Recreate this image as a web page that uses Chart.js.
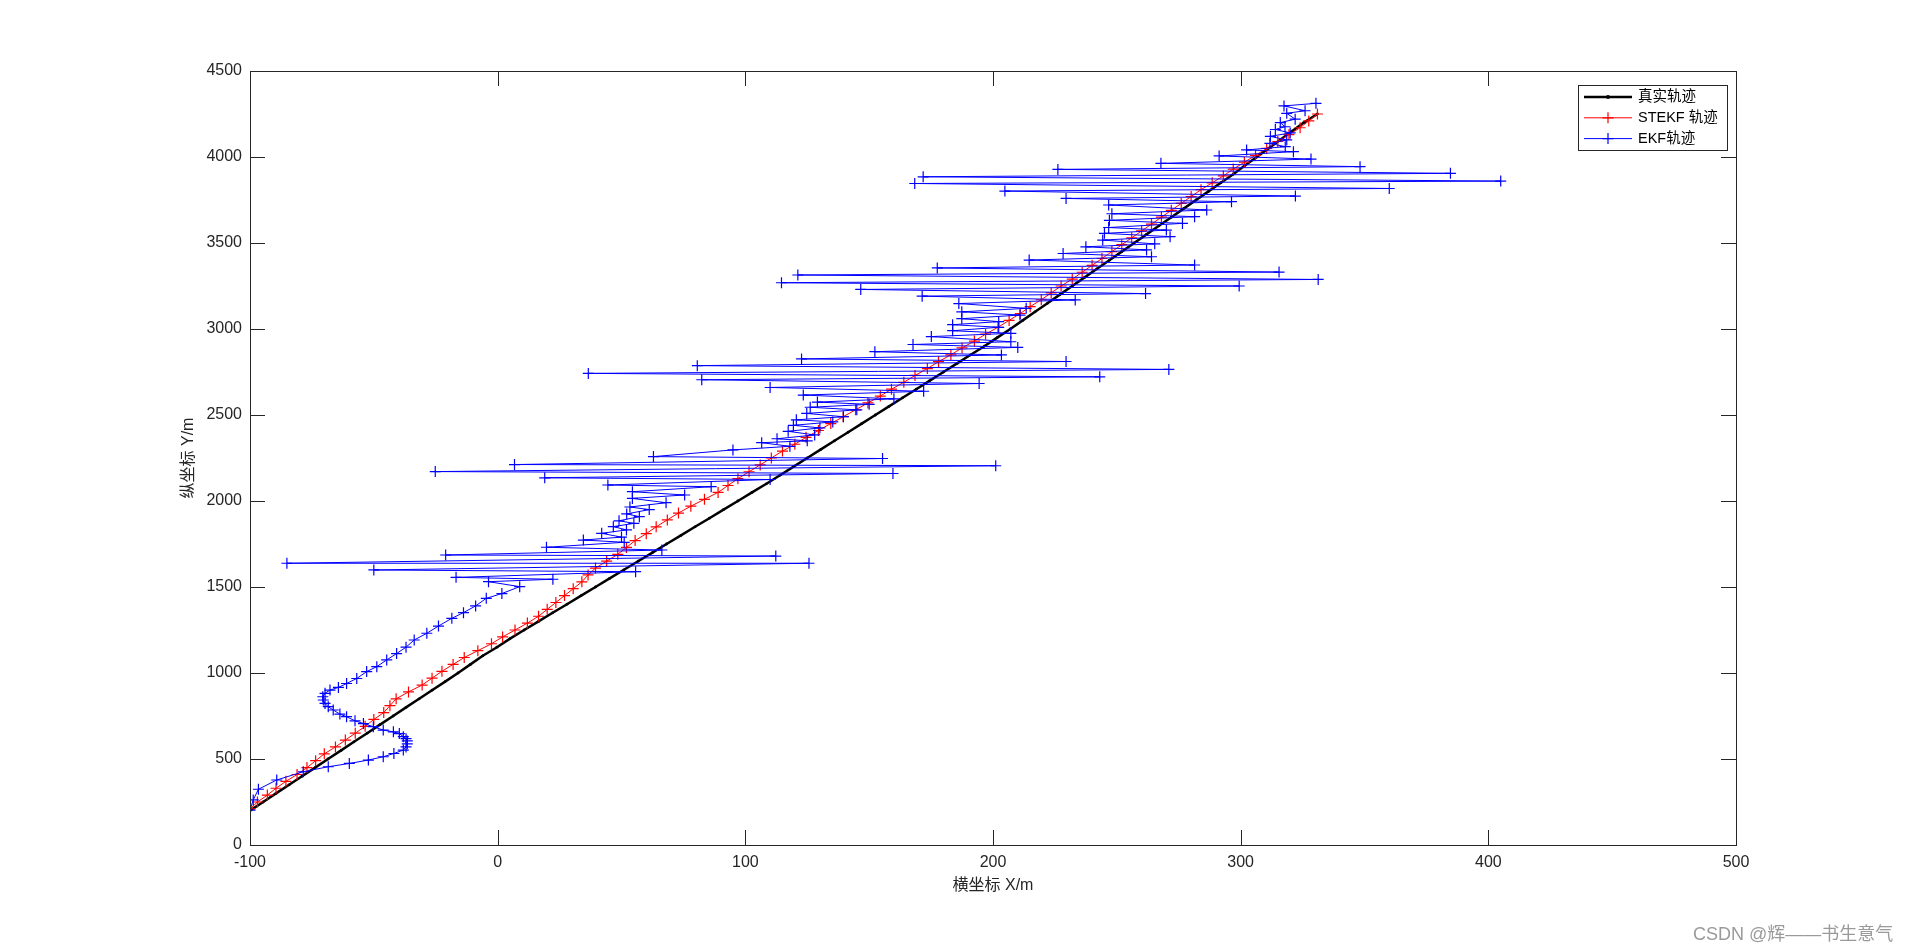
<!DOCTYPE html>
<html>
<head>
<meta charset="utf-8">
<title>轨迹对比</title>
<script src="https://cdn.jsdelivr.net/npm/chart.js@4.4.1/dist/chart.umd.min.js"></script>
<style>
    html, body { margin: 0; padding: 0; background: #ffffff; }
    #wrap { position: relative; width: 1920px; height: 949px; }
    #mark {
        position: absolute; left: 1693px; top: 919px;
        font: 18px "Liberation Sans", "Noto Sans CJK SC", sans-serif;
        color: #9a9a9a; white-space: nowrap;
    }
</style>
</head>
<body>
<div id="wrap">
    <canvas id="track"></canvas>
    <div id="mark">CSDN @辉——书生意气</div>
</div>
<script>
// Nama seri (urutan legenda)
const seriesNames = ['真实轨迹', 'STEKF 轨迹', 'EKF轨迹'];

// Tick sumbu
const xTickValues = [-100, 0, 100, 200, 300, 400, 500];
const yTickValues = [0, 500, 1000, 1500, 2000, 2500, 3000, 3500, 4000, 4500];

// Lintasan sebenarnya
const trueX = [-100, -94.7, -89.5, -84.2, -79, -73.7, -68.5, -63.2, -58, -52.7,
    -47.5, -42.2, -37, -31.7, -26.5, -21.2, -16, -11, -6, -0.3,
    5, 10.7, 16.5, 22.2, 28, 33.7, 39.5, 45.2, 51, 56.7,
    62.5, 68.2, 74, 79.7, 85.5, 91.2, 97, 102.7, 108.5, 114,
    119.5, 125, 130.5, 136, 141.5, 147, 152.5, 158, 163.5, 169,
    174.5, 180, 185.5, 191, 196.5, 201.7, 207, 212, 217, 222,
    227, 232, 237, 242, 247, 252, 257, 262, 267, 272,
    277, 282, 287, 292, 297, 301.7, 306.5, 311.2, 316, 320.7,
    325.5, 331];
const trueY = [200, 250, 300, 350, 400, 450, 500, 550, 600, 650,
    700, 750, 800, 850, 900, 950, 1000, 1050, 1100, 1150,
    1200, 1250, 1300, 1350, 1400, 1450, 1500, 1550, 1600, 1650,
    1700, 1750, 1800, 1850, 1900, 1950, 2000, 2050, 2100, 2150,
    2200, 2250, 2300, 2350, 2400, 2450, 2500, 2550, 2600, 2650,
    2700, 2750, 2800, 2850, 2900, 2950, 3000, 3050, 3100, 3150,
    3200, 3250, 3300, 3350, 3400, 3450, 3500, 3550, 3600, 3650,
    3700, 3750, 3800, 3850, 3900, 3950, 4000, 4050, 4100, 4150,
    4200, 4250];

// Lintasan STEKF
const stekfX = [-100, -97, -93, -89.5, -85.5, -81, -77, -73.5, -70, -65.5,
    -61.5, -57.5, -53.5, -50, -46, -43.5, -41, -36, -30.5, -26.5,
    -22.5, -18, -13.5, -8, -2.5, 2, 7, 12, 16.5, 20,
    23.5, 27, 30.5, 34, 36.5, 39.5, 44, 48.5, 52, 55.5,
    60, 64, 68.5, 73, 78, 83.5, 89, 93, 97, 101.5,
    106, 110.5, 115, 120, 124.5, 129.5, 134.5, 139.5, 144.5, 149.5,
    154.5, 159, 164, 168.5, 173.5, 178, 183, 187.5, 192.5, 197,
    202, 206.5, 211, 215, 219.5, 223.5, 227.5, 232, 236, 240,
    244, 248, 252, 256, 260, 264, 268, 272, 276, 280,
    284, 288.5, 293, 297, 301.5, 306, 310.5, 315, 319.5, 324,
    327.5, 331];
const stekfY = [210, 250, 290, 330, 370, 410, 450, 490, 530, 570,
    610, 650, 690, 730, 770, 810, 850, 890, 930, 970,
    1010, 1050, 1090, 1130, 1170, 1210, 1250, 1290, 1330, 1370,
    1410, 1450, 1490, 1530, 1570, 1610, 1650, 1690, 1730, 1770,
    1810, 1850, 1890, 1930, 1970, 2010, 2050, 2090, 2130, 2170,
    2210, 2250, 2290, 2330, 2370, 2410, 2450, 2490, 2530, 2570,
    2610, 2650, 2690, 2730, 2770, 2810, 2850, 2890, 2930, 2970,
    3010, 3050, 3090, 3130, 3170, 3210, 3250, 3290, 3330, 3370,
    3410, 3450, 3490, 3530, 3570, 3610, 3650, 3690, 3730, 3770,
    3810, 3850, 3890, 3930, 3970, 4010, 4050, 4090, 4130, 4170,
    4210, 4250];

// Lintasan EKF
const ekfX = [-100, -98.7, -96.6, -89.2, -78.5, -68.4, -59.9, -52.2, -46.2, -41.9,
    -38.1, -37, -36.5, -36.5, -37, -38.1, -39.7, -42.1, -46.2, -50.2,
    -54.2, -57.6, -61, -63.7, -66.4, -68.4, -69.7, -70.4, -70.6, -69.7,
    -67.7, -64.3, -61, -56.9, -52.9, -48.8, -44.8, -40.8, -37, -33.7,
    -28.6, -23.9, -18.5, -13.8, -8.9, -4.6,
    1.7, 8.9, -3.7, 22.3, -16.8, 55.7, -50, 125.7, -85.1, 112.3, -21, 66.3, 19.7, 51.1,
    34.6, 50, 42, 52, 46.7, 55, 49, 57.2, 52.1, 61.2, 53.4, 68, 54.4, 75.5, 54.4, 86.2, 44.5,
    110, 19, 159.6, -25.2, 201.1, 6.8, 155.4, 62.9,
    95, 118, 106.6, 125, 112.8, 128, 117.3, 130.1, 119.4, 135.3, 120.6, 139.6, 124.8, 145, 126.2, 150, 129.1, 160,
    123.4, 172, 110, 194.4, 82.4, 243.1, 36.6, 271, 80.6, 229.5, 122.7, 203.4,
    152.3, 210, 167.7, 207.2, 175.1, 207.2, 183.7, 202.3, 183.7, 202.3, 187.4, 210.9, 187.4,
    213.4, 186.2, 233.2, 171.4, 261.6, 146.6, 299.4, 114.6, 331.3, 121.2, 315.5, 177.5, 281.4,
    214.6, 264, 228.3, 262, 237.5, 265.3, 244.3, 271.5, 245, 270, 246.7, 276.5, 247, 281.4, 248, 286.3, 246.7, 296.3,
    229.5, 322.1, 204.8, 360, 168.4, 405, 171.8, 384.7, 226.2, 348.2, 267.8, 328.4, 291.3,
    321.3, 302.4, 318, 311.8, 318.6, 312, 320, 314, 317.9, 316, 322, 318.6, 326, 317.5, 330.4];
const ekfY = [203, 262, 324, 378, 426, 455, 474, 494, 513, 532,
    552, 570, 588, 605, 618, 630, 648, 658, 668, 688,
    706, 722, 746, 761, 785, 804, 823, 843, 862, 882,
    901, 916, 939, 968, 1008, 1037, 1076, 1113, 1150, 1192,
    1231, 1273, 1318, 1351, 1390, 1434,
    1462, 1502, 1531, 1545, 1556, 1589, 1599, 1638, 1638, 1680, 1686, 1715, 1731, 1760,
    1773, 1790, 1812, 1832, 1851, 1870, 1885, 1909, 1925, 1950, 1965, 1990, 2015, 2035, 2054, 2083, 2093,
    2125, 2135, 2160, 2171, 2205, 2212, 2247, 2258,
    2297, 2318, 2339, 2350, 2362, 2384, 2405, 2425, 2440, 2460, 2472, 2490, 2509, 2530, 2545, 2562, 2575, 2594,
    2616, 2638, 2660, 2683, 2705, 2722, 2742, 2765, 2787, 2811, 2826, 2849,
    2868, 2893, 2910, 2926, 2956, 2975, 2990, 3010, 3025, 3043, 3060, 3081, 3100,
    3120, 3148, 3169, 3191, 3206, 3230, 3250, 3269, 3288, 3314, 3331, 3355, 3372,
    3401, 3420, 3439, 3460, 3478, 3495, 3517, 3537, 3556, 3575, 3590, 3614, 3632, 3653, 3670, 3692, 3721, 3740,
    3759, 3773, 3802, 3817, 3846, 3860, 3885, 3905, 3928, 3944, 3963, 3988, 4006,
    4031, 4041, 4060, 4079, 4099, 4120, 4140, 4160, 4176, 4200, 4220, 4254, 4269, 4297, 4312];

// Gabungkan x dan y menjadi titik
function toPoints(xs, ys) {
    return xs.map((x, i) => ({ x: x, y: ys[i] }));
}

const axisColor = '#262626';
const tickLen = 15;

Chart.defaults.font.family = '"Liberation Sans", "Noto Sans CJK SC", sans-serif';
Chart.defaults.color = axisColor;

// Kotak sumbu, tick ke dalam, dan legenda di dalam area plot
const boxPlugin = {
    id: 'matlabBox',
    afterDraw(chart) {
        const { ctx, chartArea: a, scales } = chart;
        ctx.save();
        ctx.strokeStyle = axisColor;
        ctx.lineWidth = 1;
        ctx.strokeRect(Math.round(a.left) + 0.5, Math.round(a.top) + 0.5,
            Math.round(a.right - a.left), Math.round(a.bottom - a.top));
        ctx.beginPath();
        scales.x.ticks.forEach(t => {
            const px = Math.round(scales.x.getPixelForValue(t.value)) + 0.5;
            ctx.moveTo(px, a.bottom); ctx.lineTo(px, a.bottom - tickLen);
            ctx.moveTo(px, a.top); ctx.lineTo(px, a.top + tickLen);
        });
        scales.y.ticks.forEach(t => {
            const py = Math.round(scales.y.getPixelForValue(t.value)) + 0.5;
            ctx.moveTo(a.left, py); ctx.lineTo(a.left + tickLen, py);
            ctx.moveTo(a.right, py); ctx.lineTo(a.right - tickLen, py);
        });
        ctx.stroke();

        // Legenda
        const lx = 1578, ly = 85, lw = 149, lh = 65;
        ctx.fillStyle = '#ffffff';
        ctx.fillRect(lx, ly, lw, lh);
        ctx.strokeStyle = axisColor;
        ctx.strokeRect(lx + 0.5, ly + 0.5, lw, lh);
        ctx.font = '14.5px "Liberation Sans", "Noto Sans CJK SC", sans-serif';
        ctx.textBaseline = 'middle';
        chart.data.datasets.forEach((ds, i) => {
            const y = ly + 12 + i * 20.8;
            ctx.strokeStyle = ds.borderColor;
            ctx.lineWidth = ds.borderWidth;
            ctx.beginPath();
            ctx.moveTo(lx + 6, y); ctx.lineTo(lx + 54, y);
            ctx.stroke();
            const cx = lx + 30;
            if (ds.pointStyle === 'cross') {
                ctx.lineWidth = 1.2;
                ctx.beginPath();
                ctx.moveTo(cx - ds.pointRadius, y); ctx.lineTo(cx + ds.pointRadius, y);
                ctx.moveTo(cx, y - ds.pointRadius); ctx.lineTo(cx, y + ds.pointRadius);
                ctx.stroke();
            } else {
                ctx.fillStyle = ds.borderColor;
                ctx.beginPath();
                ctx.arc(cx, y, 2, 0, Math.PI * 2);
                ctx.fill();
            }
            ctx.fillStyle = '#000000';
            ctx.fillText(seriesNames[i], lx + 60, y);
        });
        ctx.restore();
    }
};

const trackChart = new Chart(document.getElementById('track'), {
    type: 'scatter',
    data: {
        datasets: [{
            label: seriesNames[0],
            data: toPoints(trueX, trueY),
            showLine: true,
            borderColor: '#000000',
            backgroundColor: '#000000',
            borderWidth: 2.5,
            pointStyle: 'circle',
            pointRadius: 1.4,
            pointBorderWidth: 0,
            order: 3
        }, {
            label: seriesNames[1],
            data: toPoints(stekfX, stekfY),
            showLine: true,
            borderColor: '#ff0000',
            backgroundColor: '#ff0000',
            borderWidth: 1,
            pointStyle: 'cross',
            pointRadius: 5.5,
            pointBorderWidth: 1.2,
            order: 2
        }, {
            label: seriesNames[2],
            data: toPoints(ekfX, ekfY),
            showLine: true,
            borderColor: '#0000ff',
            backgroundColor: '#0000ff',
            borderWidth: 1,
            pointStyle: 'cross',
            pointRadius: 5.5,
            pointBorderWidth: 1.2,
            order: 1
        }]
    },
    options: {
        responsive: true,
        maintainAspectRatio: false,
        animation: false,
        events: [],
        layout: { padding: { left: 0, top: 71, right: 184, bottom: 0 } },
        plugins: {
            legend: { display: false },
            tooltip: { enabled: false }
        },
        scales: {
            x: {
                type: 'linear',
                min: -100,
                max: 500,
                afterBuildTicks: s => { s.ticks = xTickValues.map(v => ({ value: v })); },
                afterFit: s => { s.height = 104; },
                grid: { display: false, drawTicks: false },
                border: { display: false },
                ticks: {
                    font: { size: 16 }, color: axisColor, padding: 8, maxRotation: 0,
                    callback: v => String(v)
                },
                title: {
                    display: true,
                    text: '横坐标 X/m',
                    font: { size: 16 },
                    color: axisColor,
                    padding: { top: 0, bottom: 54 }
                }
            },
            y: {
                type: 'linear',
                min: 0,
                max: 4500,
                afterBuildTicks: s => { s.ticks = yTickValues.map(v => ({ value: v })); },
                afterFit: s => { s.width = 250; },
                grid: { display: false, drawTicks: false },
                border: { display: false },
                ticks: {
                    font: { size: 16 }, color: axisColor, padding: 8,
                    callback: v => String(v)
                },
                title: {
                    display: true,
                    text: '纵坐标 Y/m',
                    font: { size: 16 },
                    color: axisColor,
                    padding: { top: 179, bottom: 0 }
                }
            }
        }
    },
    plugins: [boxPlugin]
});
</script>
</body>
</html>
